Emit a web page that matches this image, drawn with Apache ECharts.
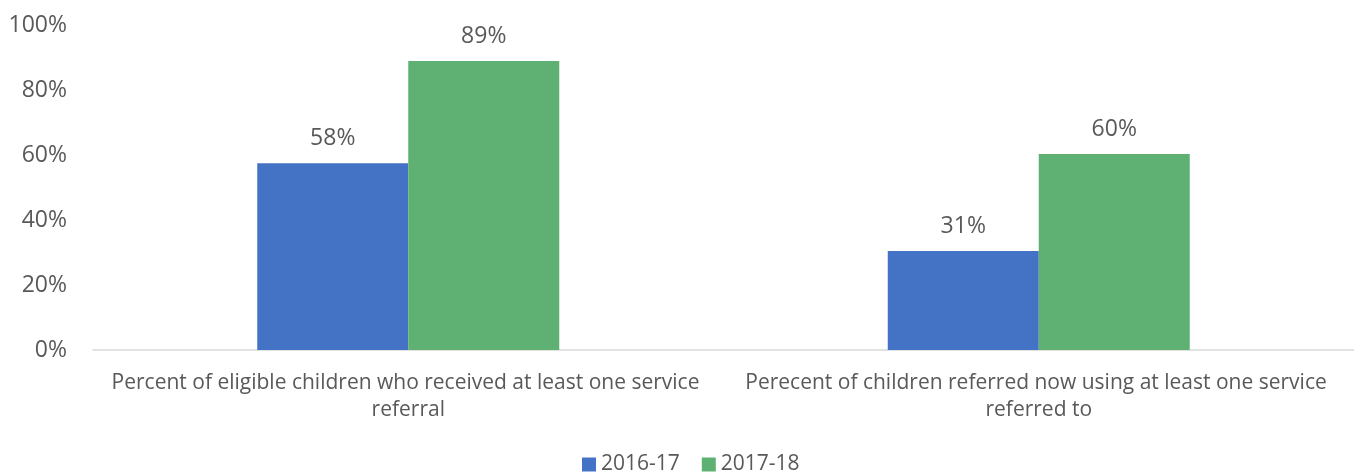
<!DOCTYPE html>
<html>
<head>
<meta charset="utf-8">
<script src="https://cdn.jsdelivr.net/npm/echarts@6/dist/echarts.min.js"></script>
<style>
  html, body { margin: 0; padding: 0; background: #fff; }
  #main { width: 1354px; height: 474px; }
</style>
</head>
<body>
<div id="main"></div>
<script>
// data
var categories = [
  'Percent of eligible children who received at least one service referral',
  'Perecent of children referred now using at least one service referred to'
]
var seriesNames = ['2016-17', '2017-18']
var values1617 = [57.5, 30.5]
var values1718 = [88.9, 60.3]
var yTicks = [0, 20, 40, 60, 80, 100]

var colors = ['#4472c4', '#5fb173']
var textColor = '#595959'
var font = '"Open Sans", "Noto Sans", sans-serif'

var myChart = echarts.init(document.getElementById('main'))

function barSeries(name, data, color) {
  return {
    name: name,
    type: 'bar',
    data: data,
    barWidth: 151,
    barGap: '0%',
    itemStyle: { color: color },
    label: {
      show: true,
      position: 'top',
      distance: 13,
      color: textColor,
      fontFamily: font,
      fontSize: 23,
      formatter: function (p) { return Math.round(p.value) + '%' }
    }
  }
}

var option = {
  animation: false,
  grid: {
    top: 25,
    left: 93,
    right: 0,
    bottom: 124
  },
  legend: {
    left: 577,
    bottom: -6,
    itemWidth: 14,
    itemHeight: 14,
    itemGap: 22,
    icon: 'rect',
    data: seriesNames,
    textStyle: { color: textColor, fontFamily: font, fontSize: 21, padding: [0, 0, 0, 0] }
  },
  xAxis: {
    type: 'category',
    data: categories,
    axisLine: { lineStyle: { color: '#d9d9d9', width: 1.5 } },
    axisTick: { show: false },
    axisLabel: {
      color: textColor,
      fontFamily: font,
      fontSize: 21,
      lineHeight: 27,
      margin: 20,
      width: 615,
      overflow: 'break',
      interval: 0
    }
  },
  yAxis: {
    type: 'value',
    min: yTicks[0],
    max: yTicks[yTicks.length - 1],
    interval: 20,
    splitLine: { show: false },
    axisLine: { show: false },
    axisTick: { show: false },
    axisLabel: {
      color: textColor,
      fontFamily: font,
      fontSize: 23,
      margin: 26,
      formatter: '{value}%'
    }
  },
  series: [
    barSeries(seriesNames[0], values1617, colors[0]),
    barSeries(seriesNames[1], values1718, colors[1])
  ]
}
myChart.setOption(option)
</script>
</body>
</html>
